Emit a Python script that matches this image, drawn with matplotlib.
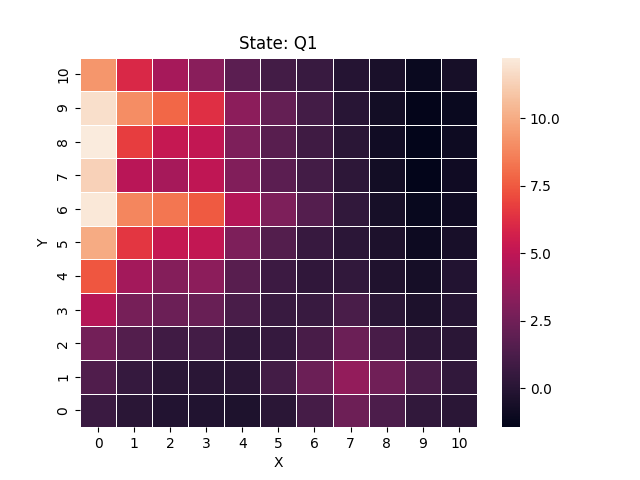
import numpy as np
import matplotlib
matplotlib.use("Agg")
import matplotlib.pyplot as plt
import seaborn as sns

x_labels = list(range(11))
y_labels = list(range(11))
cbar_ticks = [0.0, 2.5, 5.0, 7.5, 10.0]

# rows listed from Y=0 (bottom) to Y=10 (top)
row_0 = [0.65, 0.05, -0.2, -0.25, -0.35, 0.1, 1.05, 2.4, 1.3, 0.35, 0.1]
row_1 = [1.4, 0.5, 0.05, 0.1, 0.1, 1.0, 2.3, 3.6, 2.5, 1.2, 0.35]
row_2 = [2.6, 1.5, 0.9, 1.0, 0.35, 0.5, 1.15, 2.3, 1.15, 0.2, 0.1]
row_3 = [4.7, 2.7, 2.3, 2.2, 1.2, 0.6, 0.6, 1.2, 0.1, -0.4, -0.1]
row_4 = [7.4, 4.1, 3.1, 3.4, 1.7, 0.7, 0.3, 0.35, -0.3, -0.7, -0.2]
row_5 = [10.0, 6.5, 5.2, 5.1, 2.9, 1.5, 0.55, 0.15, -0.4, -1.0, -0.55]
row_6 = [12.1, 8.8, 8.3, 7.5, 4.7, 2.9, 1.6, 0.35, -0.6, -1.15, -0.9]
row_7 = [11.3, 4.8, 4.2, 5.0, 3.0, 1.8, 1.0, 0.2, -0.8, -1.45, -0.9]
row_8 = [12.25, 6.7, 5.2, 5.1, 2.9, 1.7, 0.8, 0.05, -0.85, -1.45, -0.95]
row_9 = [11.8, 9.0, 7.9, 6.3, 3.4, 2.1, 1.0, 0.0, -0.8, -1.35, -1.1]
row_10 = [9.3, 6.0, 4.2, 3.3, 1.8, 1.0, 0.6, -0.1, -0.5, -1.1, -0.6]

data = np.array([row_0, row_1, row_2, row_3, row_4, row_5, row_6,
                 row_7, row_8, row_9, row_10])

fig, ax = plt.subplots(figsize=(6.4, 4.8), dpi=100)
sns.heatmap(data, linewidths=0.5, ax=ax,
            xticklabels=x_labels, yticklabels=y_labels,
            cbar_kws={"ticks": cbar_ticks})
ax.invert_yaxis()
ax.set_title("State: Q1")
ax.set_xlabel("X")
ax.set_ylabel("Y")
fig.savefig("out.png", dpi=100)
